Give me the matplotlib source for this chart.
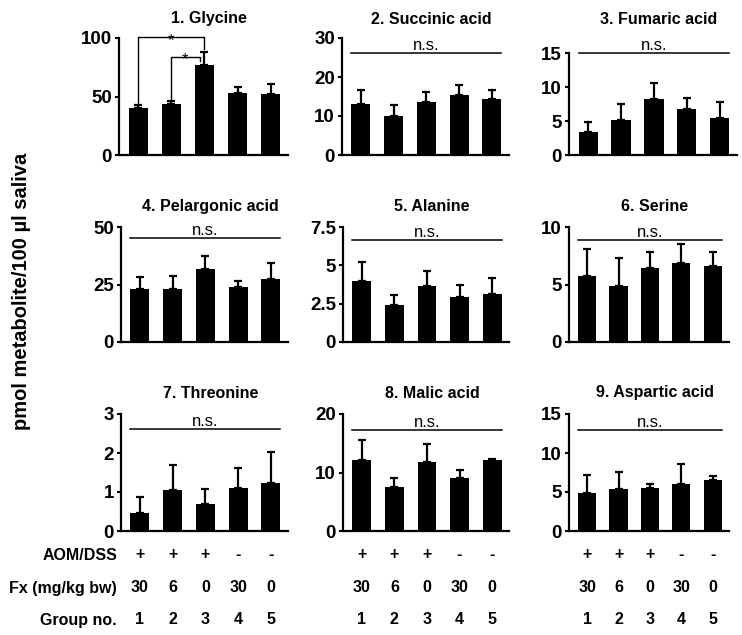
import matplotlib.pyplot as plt
import matplotlib.transforms as mtransforms
import numpy as np

plt.rcParams['font.family'] = ['Liberation Sans', 'DejaVu Sans']

groups = [1, 2, 3, 4, 5]
aom_dss = ['+', '+', '+', '-', '-']
fx_dose = ['30', '6', '0', '30', '0']

titles = ['1. Glycine', '2. Succinic acid', '3. Fumaric acid',
          '4. Pelargonic acid', '5. Alanine', '6. Serine',
          '7. Threonine', '8. Malic acid', '9. Aspartic acid']
means = [[40, 44, 77, 53.4, 52],
         [13.2, 9.9, 13.5, 15.3, 14.4],
         [3.4, 5.2, 8.3, 6.8, 5.4],
         [23, 23, 31.6, 23.8, 27.4],
         [4.0, 2.42, 3.67, 2.96, 3.13],
         [5.76, 4.9, 6.46, 6.89, 6.6],
         [0.46, 1.05, 0.68, 1.09, 1.22],
         [12.1, 7.56, 11.75, 9.0, 12.1],
         [4.9, 5.33, 5.54, 5.97, 6.57]]
errs = [[3, 2.2, 11, 4.3, 9],
        [3.4, 2.9, 2.7, 2.7, 2.3],
        [1.5, 2.3, 2.3, 1.6, 2.4],
        [5.1, 5.6, 5.6, 2.6, 6.9],
        [1.23, 0.65, 0.93, 0.76, 1.04],
        [2.31, 2.4, 1.38, 1.67, 1.21],
        [0.4, 0.64, 0.39, 0.52, 0.8],
        [3.4, 1.44, 3.09, 1.5, 0.16],
        [2.28, 2.27, 0.43, 2.58, 0.48]]
ymax = [100, 30, 15, 50, 7.5, 10, 3, 20, 15]
yticks = [[0, 50, 100], [0, 10, 20, 30], [0, 5, 10, 15],
          [0, 25, 50], [0, 2.5, 5, 7.5], [0, 5, 10],
          [0, 1, 2, 3], [0, 10, 20], [0, 5, 10, 15]]
ytick_labels = [['0', '50', '100'], ['0', '10', '20', '30'], ['0', '5', '10', '15'],
                ['0', '25', '50'], ['0', '2.5', '5', '7.5'], ['0', '5', '10'],
                ['0', '1', '2', '3'], ['0', '10', '20'], ['0', '5', '10', '15']]
ns_level = [None, 26.1, 15, 45.2, 6.63, 8.85, 2.61, 17.3, 12.98]

W, H = 742, 635
fig = plt.figure(figsize=(W / 100, H / 100), dpi=100)

# axes boxes in pixels: left, right, top, bottom
boxes = [(119, 288, 38, 155), (342, 509, 38, 155), (569, 737, 53, 155),
         (121, 288, 227, 342), (343, 509, 227, 342), (569, 729, 227, 342),
         (121, 288, 414, 531), (343, 509, 414, 531), (569, 729, 414, 531)]
title_y = [19, 19, 19, 207, 207, 207, 393, 393, 393]

axes = []
for i in range(9):
    l, r, t, b = boxes[i]
    ax = fig.add_axes([l / W, 1 - b / H, (r - l) / W, (b - t) / H])
    axes.append(ax)
    ax.bar(groups, means[i], width=0.58, color='black', zorder=2)
    ax.errorbar(groups, means[i], yerr=[np.zeros(5), errs[i]], fmt='none',
                ecolor='black', elinewidth=1.6, capsize=3, capthick=1.6, zorder=1)
    ax.set_xlim(0.42, 5.52)
    ax.set_ylim(0, ymax[i])
    ax.set_yticks(yticks[i])
    ax.set_yticklabels(ytick_labels[i], fontweight='bold', fontsize=13.5)
    ax.set_xticks([])
    for s in ['top', 'right']:
        ax.spines[s].set_visible(False)
    ax.spines['left'].set_linewidth(1.6)
    ax.spines['bottom'].set_linewidth(1.6)
    ax.tick_params(axis='y', length=3, width=1.5, pad=2)
    fig.text((l + r) / 2 / W + 0.008, 1 - title_y[i] / H, titles[i],
             ha='center', va='center', fontweight='bold', fontsize=11.5)
    if ns_level[i] is not None:
        ax.plot([0.71, 5.29], [ns_level[i]] * 2, color='black', lw=1.1, clip_on=False)
        ax.text(3, ns_level[i], 'n.s.', ha='center', va='bottom', fontsize=12)

# significance brackets on glycine
ax = axes[0]
ax.plot([1, 1, 3, 3], [44, 100.5, 100.5, 91], color='black', lw=1, clip_on=False)
ax.text(2, 94, '*', ha='center', va='baseline', fontsize=12)
ax.plot([2, 2, 2.85, 2.85], [47, 84, 84, 80], color='black', lw=1, clip_on=False)
ax.text(2.4, 78, '*', ha='center', va='baseline', fontsize=12)

# treatment table under bottom row
row_y = [555, 588, 620]
row_names = ['AOM/DSS', 'Fx (mg/kg bw)', 'Group no.']
row_vals = [aom_dss, fx_dose, [str(g) for g in groups]]
for j, ax in enumerate(axes[6:]):
    trans = mtransforms.blended_transform_factory(ax.transData, fig.transFigure)
    for k in range(3):
        for g, v in zip(groups, row_vals[k]):
            ax.text(g, 1 - row_y[k] / H, v, transform=trans, ha='center',
                    va='center', fontweight='bold', fontsize=11.5)
for k in range(3):
    fig.text(117 / W, 1 - row_y[k] / H, row_names[k], ha='right', va='center',
             fontweight='bold', fontsize=11.5)

fig.text(22 / W, 1 - 291 / H, 'pmol metabolite/100 µl saliva', rotation=90,
         ha='center', va='center', fontweight='bold', fontsize=14.5)

fig.savefig('out.png', dpi=100)
